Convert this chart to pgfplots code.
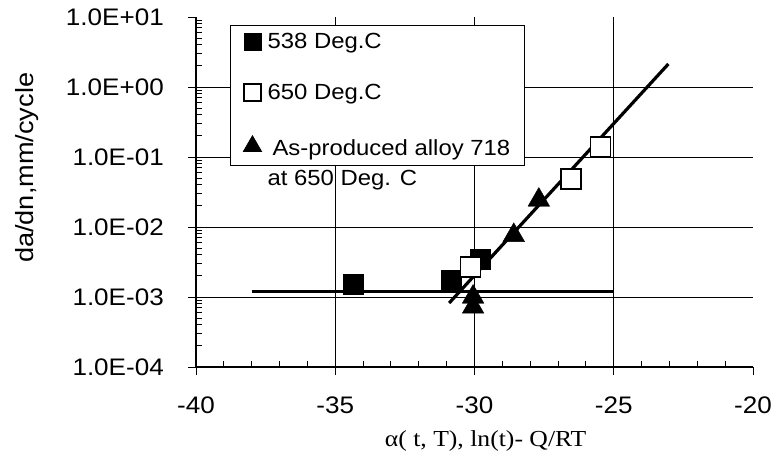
\documentclass[border=0pt]{standalone}
\usepackage{pgfplots}
\pgfplotsset{compat=1.18}
\usepackage{fontspec}
\setmainfont{Liberation Sans}[FakeStretch=1.09]
\newfontfamily\serifx{Liberation Serif}[FakeStretch=1.12]

\begin{document}
\begin{tikzpicture}
\useasboundingbox (-196bp,-94bp) rectangle (578bp,367bp);
\begin{axis}[
  at={(0,0)}, anchor=south west,
  scale only axis, width=557bp, height=350bp,
  xmin=-40, xmax=-20, ymode=log, ymin=1e-4, ymax=10,
  axis x line*=bottom, axis y line*=left,
  axis line style={line width=1.6bp, -},
  xtick={-35,-30,-25}, xticklabels={},
  minor xtick={-39,-38,-37,-36,-34,-33,-32,-31,-29,-28,-27,-26,-24,-23,-22,-21},
  ytick={1e-3,1e-2,1e-1,1}, yticklabels={},
  minor ytick={2e-4,3e-4,4e-4,5e-4,6e-4,7e-4,8e-4,9e-4,
               2e-3,3e-3,4e-3,5e-3,6e-3,7e-3,8e-3,9e-3,
               2e-2,3e-2,4e-2,5e-2,6e-2,7e-2,8e-2,9e-2,
               2e-1,3e-1,4e-1,5e-1,6e-1,7e-1,8e-1,9e-1,
               2,3,4,5,6,7,8,9},
  tick align=inside, major tick length=7bp, minor tick length=6bp,
  tick style={black, line width=0.9bp},
  xmajorgrids, ymajorgrids,
  major grid style={draw=black, line width=0.9bp},
  extra x ticks={-40,-35,-30,-25,-20},
  extra x tick labels={-40,-35,-30,-25,-20},
  extra x tick style={tick align=outside, major tick length=8bp, xmajorgrids=false},
  extra y ticks={1e-4,1e-3,1e-2,1e-1,1,10},
  extra y tick labels={1.0E-04,1.0E-03,1.0E-02,1.0E-01,1.0E+00,1.0E+01},
  extra y tick style={tick align=outside, major tick length=8bp, ymajorgrids=false},
  ticklabel style={font=\fontsize{24}{28}\selectfont, inner sep=0pt},
  yticklabel style={anchor=east, xshift=-24bp},
  xticklabel style={anchor=north, yshift=-22bp},
  xlabel={\serifx α( t, T), ln(t)- Q/RT},
  xlabel style={font=\fontsize{23}{27}\selectfont, at={(axis description cs:0.52,0)}, anchor=base, yshift=-79bp},
  ylabel={da/dn,mm/cycle},
  ylabel style={font=\fontsize{25}{29}\selectfont, at={(axis description cs:-0.2926,0.569)}, anchor=base},
  legend style={at={(axis description cs:0.061,0.977)}, anchor=north west,
    draw=black, line width=0.8bp, fill=white,
    font=\fontsize{22}{30}\selectfont,
    inner xsep=13bp, inner ysep=7bp, row sep=32bp, column sep=5bp,
    nodes={inner sep=1bp}},
  legend cell align=left,
]
% fitted lines
\addplot[black, line width=3.2bp, forget plot] coordinates {(-38,1.2e-3) (-25,1.2e-3)};
\addplot[black, line width=3.2bp, forget plot] coordinates {(-30.91,8.2e-4) (-23.04,2.13)};
% data
\addplot[only marks, mark=square*, mark size=10bp, black, forget plot]
  coordinates {(-34.36,1.5e-3) (-30.85,1.75e-3) (-29.78,3.5e-3)};
\addplot[only marks, mark=triangle*, mark size=12.5bp, black, forget plot]
  coordinates {(-30.05,1.0e-3) (-30.05,7.2e-4) (-28.59,7.6e-3) (-27.69,2.43e-2)};
\addplot[only marks, mark=square*, mark size=10bp, draw=black, fill=white, mark options={line width=1.5bp}, forget plot]
  coordinates {(-30.14,2.68e-3) (-26.53,4.85e-2) (-25.47,0.139)};
\addlegendimage{only marks, mark=square*, mark size=8.5bp, black}
\addlegendentry{538 Deg.C}
\addlegendimage{only marks, mark=square*, mark size=8.5bp, draw=black, fill=white, mark options={line width=1.3bp}}
\addlegendentry{650 Deg.C}
\addlegendimage{only marks, mark=triangle*, mark size=10.5bp, black}
\addlegendentry{\begin{tabular}[t]{@{}l@{}}\hspace{5bp}As-produced alloy 718\\at 650 Deg. C\end{tabular}}
\end{axis}
\end{tikzpicture}
\end{document}
